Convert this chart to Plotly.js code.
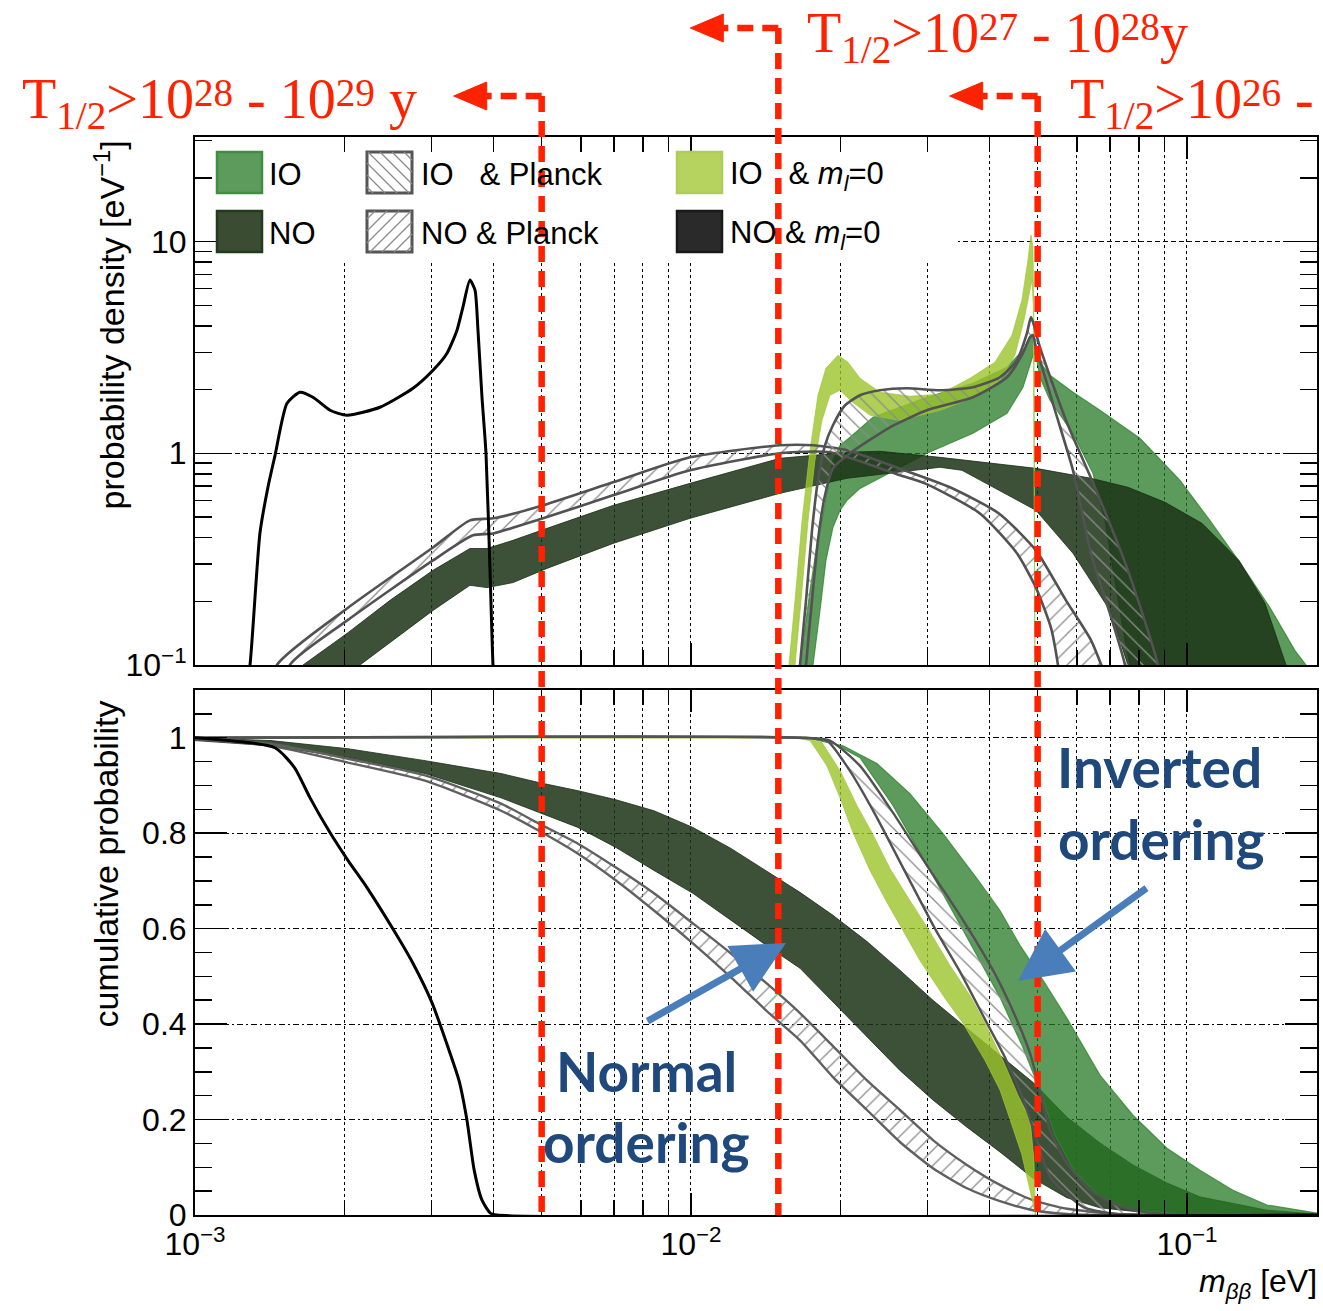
<!DOCTYPE html>
<html><head><meta charset="utf-8">
<script src="https://cdn.plot.ly/plotly-3.0.1.min.js"></script>
<style>html,body{margin:0;padding:0;background:#fff}</style>
</head><body><div id="chart" style="width:1323px;height:1311px"></div>
<script>
// ================= DATA =================
// x: m_bb [eV]; top panel: probability density [1/eV]; bottom: cumulative probability

// --- top panel: NO & m_l=0 (black curve)
const dNOm0_x = [1.27e-3,1.291e-3,1.352e-3,1.403e-3,1.450e-3,1.533e-3,1.628e-3,1.729e-3,1.872e-3,2.025e-3,2.36e-3,2.751e-3,3.019e-3,3.222e-3,3.375e-3,3.47e-3,3.584e-3,3.669e-3,3.72e-3,3.79e-3,3.861e-3,3.934e-3,3.989e-3,4.02e-3];
const dNOm0_y = [0.08,0.1,0.42,0.691,0.978,1.723,1.943,1.84,1.597,1.512,1.65,2.029,2.468,2.971,3.815,4.917,6.577,5.898,3.815,1.84,1.0,0.28,0.1,0.08];

// --- top panel: NO band
const dNO_up_x = [1.60e-3,1.651e-3,2.025e-3,2.473e-3,3.019e-3,3.584e-3,3.879e-3,4.376e-3,5.125e-3,6.961e-3,9.954e-3,1.511e-2,2.064e-2,2.404e-2,3.177e-2,4.96e-2,6.404e-2,7.603e-2,9.03e-2,1.072e-1,1.273e-1,1.437e-1,1.584e-1,1.63e-1];
const dNO_up_y = [0.08,0.1,0.141,0.202,0.280,0.355,0.355,0.388,0.442,0.567,0.721,0.947,1.011,1.022,0.957,0.849,0.762,0.691,0.587,0.467,0.312,0.195,0.1,0.08];
const dNO_lo_x = [2.08e-3,2.151e-3,3.019e-3,3.584e-3,3.879e-3,4.376e-3,5.125e-3,6.961e-3,9.954e-3,1.511e-2,2.064e-2,3.177e-2,3.519e-2,4.96e-2,5.891e-2,6.995e-2,7.603e-2,7.78e-2];
const dNO_lo_y = [0.08,0.1,0.181,0.238,0.232,0.245,0.286,0.375,0.493,0.647,0.762,0.859,0.831,0.538,0.337,0.181,0.1,0.08];

// --- top panel: IO band
const dIO_up_x = [1.64e-2,1.659e-2,1.738e-2,1.795e-2,1.845e-2,1.889e-2,1.933e-2,1.998e-2,2.093e-2,2.328e-2,2.991e-2,3.703e-2,4.337e-2,4.670e-2,4.825e-2,4.892e-2,4.96e-2,5.053e-2,5.294e-2,5.891e-2,6.677e-2,8.038e-2,9.681e-2,1.112e-1,1.279e-1,1.47e-1,1.651e-1,1.738e-1,1.770e-1];
const dIO_up_y = [0.068,0.1,0.225,0.367,0.509,0.706,0.927,1.091,1.190,1.480,1.840,2.143,2.551,3.069,3.421,3.613,3.240,2.693,2.338,1.943,1.597,1.177,0.745,0.482,0.305,0.187,0.117,0.1,0.076];
const dIO_lo_x = [1.70e-2,1.762e-2,1.82e-2,1.871e-2,1.933e-2,1.998e-2,2.064e-2,2.192e-2,2.404e-2,2.638e-2,2.991e-2,3.703e-2,4.337e-2,4.670e-2,4.825e-2,4.915e-2,4.984e-2,5.053e-2,5.294e-2,5.891e-2,6.463e-2,6.834e-2,7.158e-2,7.499e-2,7.675e-2,7.78e-2];
const dIO_lo_y = [0.068,0.1,0.181,0.312,0.447,0.538,0.600,0.683,0.762,0.859,1.0,1.243,1.546,2.051,2.607,3.003,2.753,2.287,1.781,1.243,0.804,0.482,0.251,0.131,0.1,0.068];

// --- top panel: IO & m_l=0 band
const dLG_up_x = [1.562e-2,1.576e-2,1.621e-2,1.675e-2,1.738e-2,1.803e-2,1.871e-2,1.979e-2,2.073e-2,2.192e-2,2.404e-2,2.763e-2,3.177e-2,3.652e-2,4.101e-2,4.438e-2,4.648e-2,4.78e-2,4.847e-2,4.892e-2,4.915e-2,4.94e-2];
const dLG_up_y = [0.068,0.1,0.202,0.482,1.033,1.880,2.523,2.907,2.693,2.262,1.943,1.860,1.901,2.262,2.693,3.613,5.289,8.177,10.73,9.5,4.0,0.068];
const dLG_lo_x = [1.606e-2,1.621e-2,1.667e-2,1.722e-2,1.778e-2,1.837e-2,1.906e-2,1.998e-2,2.093e-2,2.296e-2,2.638e-2,3.177e-2,3.738e-2,4.198e-2,4.5e-2,4.692e-2,4.825e-2,4.87e-2,4.90e-2,4.925e-2];
const dLG_lo_y = [0.068,0.1,0.202,0.482,0.927,1.432,1.880,1.986,1.781,1.512,1.432,1.597,1.840,2.214,2.907,4.255,5.898,6.6,5.0,0.068];

// --- top panel: IO & Planck band (two edges)
const dIOP_a_x = [1.64e-2,1.659e-2,1.706e-2,1.754e-2,1.803e-2,1.863e-2,1.933e-2,2.045e-2,2.192e-2,2.404e-2,2.725e-2,3.177e-2,3.703e-2,4.198e-2,4.542e-2,4.758e-2,4.847e-2,4.915e-2,5.053e-2,5.702e-2,6.523e-2,7.603e-2,8.74e-2,8.905e-2];
const dIOP_a_y = [0.068,0.1,0.202,0.433,0.745,1.091,1.356,1.686,1.880,1.986,2.029,1.986,2.051,2.287,2.753,3.693,4.395,4.029,3.171,1.432,0.691,0.280,0.1,0.068];
const dIOP_b_x = [1.690e-2,1.706e-2,1.754e-2,1.803e-2,1.863e-2,1.933e-2,2.093e-2,2.519e-2,2.991e-2,3.703e-2,4.337e-2,4.670e-2,4.825e-2,4.892e-2,4.96e-2,5.053e-2,5.418e-2,5.891e-2,6.404e-2,6.995e-2,7.499e-2,7.603e-2];
const dIOP_b_y = [0.068,0.1,0.202,0.388,0.633,0.849,1.0,1.327,1.597,1.840,2.287,2.971,3.535,3.613,3.137,2.753,1.597,0.831,0.337,0.175,0.1,0.068];

// --- top panel: NO & Planck band (two edges)
const dNOP_u_x = [1.430e-3,1.463e-3,2.025e-3,3.019e-3,3.584e-3,3.989e-3,4.96e-3,6.961e-3,9.954e-3,1.511e-2,1.762e-2,2.064e-2,2.626e-2,3.328e-2,4.178e-2,4.96e-2,5.702e-2,6.404e-2,6.995e-2];
const dNOP_u_y = [0.068,0.1,0.185,0.359,0.482,0.493,0.562,0.729,0.957,1.091,1.091,1.033,0.849,0.691,0.520,0.348,0.202,0.131,0.078];
const dNOP_l_x = [1.533e-3,1.554e-3,2.025e-3,3.019e-3,3.635e-3,3.989e-3,4.96e-3,6.961e-3,9.954e-3,1.511e-2,1.906e-2,2.602e-2,2.963e-2,3.825e-2,4.542e-2,4.96e-2,5.318e-2,5.494e-2,5.57e-2];
const dNOP_l_y = [0.068,0.1,0.162,0.312,0.410,0.418,0.488,0.633,0.831,1.0,1.011,0.796,0.721,0.520,0.337,0.232,0.150,0.1,0.076];

// --- bottom panel: NO & m_l=0 (black)
const cNOm0_x = [1e-3,1.449e-3,1.588e-3,1.706e-3,1.862e-3,2.034e-3,2.222e-3,2.518e-3,2.752e-3,3.007e-3,3.238e-3,3.406e-3,3.534e-3,3.655e-3,3.79e-3,3.94e-3,4.06e-3,1.829e-1];
const cNOm0_y = [1.0,0.979,0.937,0.874,0.805,0.743,0.686,0.596,0.527,0.444,0.351,0.282,0.199,0.094,0.031,0.004,0,0];

// --- bottom panel: NO band
const cNO_up_x = [1e-3,1.423e-3,2.034e-3,2.909e-3,4.14e-3,4.937e-3,5.918e-3,7.06e-3,8.422e-3,1.009e-2,1.204e-2,1.437e-2,1.659e-2,1.933e-2,2.264e-2,2.638e-2,3.075e-2,3.601e-2,4.198e-2,4.892e-2,5.729e-2,6.677e-2,7.782e-2,9.114e-2,1.062e-1,1.45e-1,1.829e-1];
const cNO_up_y = [1.0,0.994,0.977,0.952,0.925,0.906,0.889,0.870,0.847,0.812,0.768,0.718,0.676,0.628,0.573,0.513,0.450,0.391,0.335,0.278,0.205,0.151,0.105,0.067,0.038,0.010,0.002];
const cNO_lo_x = [1e-3,1.423e-3,2.034e-3,2.909e-3,4.14e-3,4.937e-3,5.918e-3,7.06e-3,8.422e-3,1.009e-2,1.204e-2,1.437e-2,1.659e-2,1.933e-2,2.264e-2,2.638e-2,3.075e-2,3.601e-2,4.198e-2,4.892e-2,5.729e-2,6.677e-2,8.42e-2,1.062e-1,1.829e-1];
const cNO_lo_y = [0.994,0.983,0.958,0.925,0.874,0.843,0.812,0.770,0.722,0.674,0.617,0.561,0.517,0.446,0.374,0.303,0.241,0.184,0.132,0.077,0.036,0.015,0.004,0,0];

// --- bottom panel: NO & Planck band
const cNOP_u_x = [1e-3,1.423e-3,2.034e-3,2.909e-3,4.14e-3,4.937e-3,5.918e-3,7.06e-3,8.422e-3,1.009e-2,1.204e-2,1.437e-2,1.659e-2,1.933e-2,2.264e-2,2.638e-2,3.075e-2,3.601e-2,4.198e-2,4.892e-2,5.729e-2,7.225e-2,1.062e-1,1.829e-1];
const cNOP_u_y = [1.0,0.987,0.956,0.921,0.862,0.820,0.778,0.728,0.674,0.611,0.548,0.481,0.423,0.354,0.282,0.220,0.157,0.105,0.063,0.031,0.013,0.002,0,0];
const cNOP_l_x = [1e-3,1.423e-3,2.034e-3,2.909e-3,4.14e-3,4.937e-3,5.918e-3,7.06e-3,8.422e-3,1.009e-2,1.204e-2,1.437e-2,1.659e-2,1.933e-2,2.264e-2,2.638e-2,3.075e-2,3.601e-2,4.198e-2,4.892e-2,5.729e-2,6.677e-2,1.829e-1];
const cNOP_l_y = [0.998,0.983,0.948,0.910,0.847,0.805,0.757,0.701,0.638,0.569,0.498,0.423,0.366,0.289,0.220,0.153,0.098,0.056,0.029,0.010,0.002,0,0];

// --- bottom panel: IO band
const cIO_up_x = [1e-3,1.584e-2,1.738e-2,2.026e-2,2.371e-2,2.763e-2,3.222e-2,3.772e-2,4.198e-2,4.606e-2,5.125e-2,5.729e-2,6.677e-2,7.782e-2,9.114e-2,1.062e-1,1.238e-1,1.45e-1,1.829e-1];
const cIO_up_y = [1.0,1.0,0.998,0.983,0.946,0.883,0.799,0.705,0.638,0.565,0.492,0.412,0.293,0.209,0.140,0.094,0.052,0.021,0.004];
const cIO_lo_x = [1e-3,1.659e-2,1.88e-2,2.192e-2,2.554e-2,3.033e-2,3.601e-2,4.198e-2,4.67e-2,5.053e-2,5.418e-2,5.945e-2,6.677e-2,7.782e-2,1.062e-1,1.829e-1];
const cIO_lo_y = [1.0,1.0,0.996,0.958,0.858,0.722,0.582,0.456,0.351,0.262,0.167,0.090,0.038,0.010,0,0];

// --- bottom panel: IO & m_l=0 band
const cLG_l_x = [1e-3,1.606e-2,1.738e-2,1.88e-2,1.998e-2,2.122e-2,2.296e-2,2.484e-2,2.663e-2,2.895e-2,3.252e-2,3.535e-2,3.915e-2,4.198e-2,4.397e-2,4.648e-2,4.825e-2,4.937e-2];
const cLG_l_y = [1.0,1.0,0.994,0.941,0.874,0.801,0.722,0.655,0.600,0.533,0.454,0.402,0.324,0.262,0.201,0.126,0.052,0];
const cLG_r_x = [1e-3,1.659e-2,1.837e-2,1.998e-2,2.161e-2,2.317e-2,2.519e-2,2.763e-2,3.005e-2,3.328e-2,3.652e-2,3.915e-2,4.256e-2,4.563e-2,4.825e-2,4.915e-2,4.95e-2];
const cLG_r_y = [1.0,1.0,0.990,0.931,0.858,0.801,0.726,0.659,0.600,0.523,0.460,0.402,0.324,0.251,0.201,0.115,0];

// --- bottom panel: IO & Planck band
const cIOP_a_x = [1e-3,1.659e-2,1.88e-2,2.093e-2,2.35e-2,2.70e-2,3.104e-2,3.486e-2,3.915e-2,4.297e-2,4.648e-2,4.937e-2,5.294e-2,6.17e-2,7.225e-2,8.42e-2,1.829e-1];
const cIOP_a_y = [1.0,1.0,0.994,0.93,0.84,0.72,0.60,0.51,0.41,0.33,0.25,0.17,0.08,0.017,0.002,0,0];
const cIOP_b_x = [1e-3,1.698e-2,1.906e-2,2.192e-2,2.554e-2,2.991e-2,3.486e-2,4.063e-2,4.5e-2,4.825e-2,5.053e-2,5.294e-2,5.675e-2,6.373e-2,7.225e-2,8.42e-2,1.062e-1,1.829e-1];
const cIOP_b_y = [1.0,1.0,0.994,0.941,0.843,0.732,0.628,0.513,0.418,0.339,0.262,0.178,0.115,0.052,0.021,0.004,0,0];

// --- sensitivity lines (m_bb values) and their labels
const limitMass = [0.005, 0.015, 0.05];
const limitLabels = ['T<sub>1/2</sub>&gt;10<sup>28</sup> - 10<sup>29</sup> y',
                     'T<sub>1/2</sub>&gt;10<sup>27</sup> - 10<sup>28</sup>y',
                     'T<sub>1/2</sub>&gt;10<sup>26</sup> -'];

// --- axis ticks
const xMajor = [0.001, 0.01, 0.1];
const xMajorText = ['10<sup>\u22123</sup>', '10<sup>\u22122</sup>', '10<sup>\u22121</sup>'];
const xMinor = [0.002,0.003,0.004,0.005,0.006,0.007,0.008,0.009,0.02,0.03,0.04,0.05,0.06,0.07,0.08,0.09];
const yTopMajor = [0.1, 1, 10];
const yTopText = ['10<sup>\u22121</sup>', '1', '10'];
const yTopMinor = [0.2,0.3,0.4,0.5,0.6,0.7,0.8,0.9,2,3,4,5,6,7,8,9,20,30];
const yBotMajor = [0, 0.2, 0.4, 0.6, 0.8, 1];
const yBotText = ['0', '0.2', '0.4', '0.6', '0.8', '1'];

// ================= STYLE / GEOMETRY =================
const X_MIN = 0.001, X_MAX = 0.1829;
const XR = [Math.log10(X_MIN), Math.log10(X_MAX)];
const YR_TOP = [-1, 1.494];
const PL = 195, PR = 1317, PT = 137, PB = 1215;
const TOP_BOTTOM_PX = 665, BOT_TOP_PX = 690;
const pxX = px => (px - PL) / (PR - PL);
const pxY = py => (PB - py) / (PB - PT);
const dataX = v => (Math.log10(v) - XR[0]) / (XR[1] - XR[0]);
const pxToX = px => Math.pow(10, XR[0] + pxX(px) * (XR[1] - XR[0]));
const pyToTopY = py => Math.pow(10, YR_TOP[0] + (TOP_BOTTOM_PX - py) / (TOP_BOTTOM_PX - PT) * (YR_TOP[1] - YR_TOP[0]));

const C_IO = 'rgba(38,122,38,0.75)';
const C_NO = 'rgba(28,52,22,0.86)';
const C_LG = 'rgba(155,195,42,0.80)';
const C_PL = '#525252';
const C_HATCH = '#8c8c8c';
const RED = '#ff2200';
const FONT = 'Liberation Sans, Arial, sans-serif';

const TOP = {x: 'x', y: 'y'}, BOT = {x: 'x2', y: 'y2'};

function band(xu, yu, xl, yl, ax, opt) {
  return Object.assign({
    type: 'scatter', mode: 'lines', xaxis: ax.x, yaxis: ax.y,
    x: xu.concat(xl.slice().reverse()), y: yu.concat(yl.slice().reverse()),
    fill: 'toself', hoverinfo: 'skip'
  }, opt);
}
function hatchBand(xu, yu, xl, yl, ax, shape) {
  return band(xu, yu, xl, yl, ax, {
    line: {width: 0}, fillcolor: 'rgba(255,255,255,0)',
    fillpattern: {shape: shape, fgcolor: C_HATCH, bgcolor: 'rgba(255,255,255,0)', size: 11, solidity: 0.12}
  });
}
function line(x, y, ax, color, width) {
  return {type: 'scatter', mode: 'lines', xaxis: ax.x, yaxis: ax.y, x: x, y: y,
          line: {color: color, width: width, shape: 'spline', smoothing: 0.6}, hoverinfo: 'skip'};
}

const traces = [
  // ---- top panel
  band(dIO_up_x, dIO_up_y, dIO_lo_x, dIO_lo_y, TOP, {fillcolor: C_IO, line: {color: 'rgba(50,135,50,0.8)', width: 1.2}}),
  band(dNO_up_x, dNO_up_y, dNO_lo_x, dNO_lo_y, TOP, {fillcolor: C_NO, line: {color: 'rgba(25,45,20,0.8)', width: 1}}),
  band(dLG_up_x, dLG_up_y, dLG_lo_x, dLG_lo_y, TOP, {fillcolor: C_LG, line: {color: 'rgba(160,200,60,0.9)', width: 0.8}}),
  hatchBand(dNOP_u_x, dNOP_u_y, dNOP_l_x, dNOP_l_y, TOP, '/'),
  line(dNOP_u_x, dNOP_u_y, TOP, C_PL, 2.6),
  line(dNOP_l_x, dNOP_l_y, TOP, C_PL, 2.6),
  hatchBand(dIOP_a_x, dIOP_a_y, dIOP_b_x, dIOP_b_y, TOP, '\\'),
  line(dIOP_a_x, dIOP_a_y, TOP, C_PL, 2.6),
  line(dIOP_b_x, dIOP_b_y, TOP, C_PL, 2.6),
  line(dNOm0_x, dNOm0_y, TOP, '#000', 3),
  // ---- bottom panel
  band(cNO_up_x, cNO_up_y, cNO_lo_x, cNO_lo_y, BOT, {fillcolor: C_NO, line: {color: 'rgba(25,45,20,0.8)', width: 1}}),
  hatchBand(cNOP_u_x, cNOP_u_y, cNOP_l_x, cNOP_l_y, BOT, '/'),
  line(cNOP_u_x, cNOP_u_y, BOT, '#606060', 2.4),
  line(cNOP_l_x, cNOP_l_y, BOT, '#606060', 2.4),
  band(cIO_up_x, cIO_up_y, cIO_lo_x, cIO_lo_y, BOT, {fillcolor: C_IO, line: {color: 'rgba(50,135,50,0.8)', width: 1.2}}),
  band(cLG_l_x, cLG_l_y, cLG_r_x, cLG_r_y, BOT, {fillcolor: C_LG, line: {color: 'rgba(160,200,60,0.9)', width: 0.8}}),
  hatchBand(cIOP_a_x, cIOP_a_y, cIOP_b_x, cIOP_b_y, BOT, '\\'),
  line(cIOP_a_x, cIOP_a_y, BOT, C_PL, 2.4),
  line(cIOP_b_x, cIOP_b_y, BOT, C_PL, 2.4),
  line(cNOm0_x, cNOm0_y, BOT, '#000', 3)
];

// ---- axes
const tickFont = {family: FONT, size: 32, color: '#000'};
function xAxis(anchor, labels) {
  return {
    type: 'log', range: XR, domain: [0, 1], anchor: anchor,
    tickmode: 'array', tickvals: xMajor, ticktext: xMajorText, showticklabels: labels,
    ticks: 'inside', ticklen: 22, tickwidth: 1.5, tickcolor: '#000',
    showline: true, linewidth: 2, linecolor: '#000', mirror: 'allticks',
    showgrid: true, gridcolor: '#000', gridwidth: 1, griddash: '3px,3px',
    minor: {tickmode: 'array', tickvals: xMinor, ticks: 'inside', ticklen: 15, tickwidth: 1.5, tickcolor: '#000',
            showgrid: true, gridcolor: '#000', gridwidth: 1, griddash: '3px,3px'},
    zeroline: false, tickfont: tickFont
  };
}
const layout = {
  width: 1323, height: 1311,
  margin: {l: PL, r: 1323 - PR, t: PT, b: 1311 - PB, pad: 0},
  paper_bgcolor: '#fff', plot_bgcolor: '#fff', showlegend: false,
  font: {family: FONT, color: '#000'},
  xaxis: xAxis('y', false),
  xaxis2: xAxis('y2', true),
  yaxis: {
    type: 'log', range: YR_TOP, domain: [pxY(TOP_BOTTOM_PX), 1], anchor: 'x',
    tickmode: 'array', tickvals: yTopMajor, ticktext: yTopText,
    ticks: 'inside', ticklen: 32, tickwidth: 1.5, tickcolor: '#000',
    showline: true, linewidth: 2, linecolor: '#000', mirror: 'allticks',
    showgrid: true, gridcolor: '#000', gridwidth: 1, griddash: '5px,3px',
    minor: {tickmode: 'array', tickvals: yTopMinor, ticks: 'inside', ticklen: 17, tickwidth: 1.5, tickcolor: '#000', showgrid: false},
    zeroline: false, tickfont: tickFont
  },
  yaxis2: {
    type: 'linear', range: [0, 1.1], domain: [0, pxY(BOT_TOP_PX)], anchor: 'x2',
    tickmode: 'array', tickvals: yBotMajor, ticktext: yBotText,
    ticks: 'inside', ticklen: 32, tickwidth: 1.5, tickcolor: '#000',
    showline: true, linewidth: 2, linecolor: '#000', mirror: 'allticks',
    showgrid: true, gridcolor: '#000', gridwidth: 1, griddash: '6px,3px,2px,3px',
    minor: {dtick: 0.05, tick0: 0, ticks: 'inside', ticklen: 17, tickwidth: 1.5, tickcolor: '#000', showgrid: false},
    zeroline: false, tickfont: tickFont
  },
  shapes: [],
  annotations: []
};

// ---- legend (drawn by hand, ROOT style)
function box(x0, y0, x1, y1, fill, border, w) {
  layout.shapes.push({type: 'rect', xref: 'paper', yref: 'paper', x0: pxX(x0), x1: pxX(x1), y0: pxY(y1), y1: pxY(y0),
    fillcolor: fill, line: {color: border, width: w}, layer: 'above'});
}
function hatch(x0, y0, x1, y1, step, dir) {
  const w = x1 - x0, h = y1 - y0; let p = '';
  for (let c = -h + step / 2; c < w; c += step) {
    let xs = Math.max(x0, x0 + c), ys = y0 + (xs - x0) - c;
    let xe = Math.min(x1, x0 + c + h), ye = y0 + (xe - x0) - c;
    if (xe <= xs) continue;
    if (dir === '/') { xs = x0 + x1 - xs; xe = x0 + x1 - xe; }
    p += 'M' + pxX(xs).toFixed(5) + ',' + pxY(ys).toFixed(5) + 'L' + pxX(xe).toFixed(5) + ',' + pxY(ye).toFixed(5);
  }
  layout.shapes.push({type: 'path', xref: 'paper', yref: 'paper', path: p, line: {color: C_HATCH, width: 1.3}, layer: 'above'});
}
box(217, 152, 262, 193, 'rgb(92,155,92)', 'rgb(65,142,65)', 2.5);
box(217, 211, 262, 252, 'rgb(58,77,50)', 'rgb(35,58,30)', 2.5);
box(367, 152, 412, 193, '#fff', '#555', 3); hatch(367, 152, 412, 193, 12, '\\');
box(367, 211, 412, 252, '#fff', '#555', 3); hatch(367, 211, 412, 252, 12, '/');
box(677, 152, 722, 193, 'rgb(182,210,95)', 'rgb(172,206,88)', 2.5);
box(677, 211, 722, 252, 'rgb(42,42,42)', 'rgb(25,25,25)', 2.5);
function txt(text, px, py, size, opt) {
  layout.annotations.push(Object.assign({text: text, xref: 'paper', yref: 'paper', x: pxX(px), y: pxY(py),
    xanchor: 'left', yanchor: 'middle', showarrow: false, font: {family: FONT, size: size, color: '#000'}}, opt || {}));
}
const LEG = 31;
txt('IO', 267, 174, LEG); txt('NO', 267, 233, LEG);
txt('IO&nbsp;&nbsp;&nbsp;&amp; Planck', 419, 174, LEG); txt('NO &amp; Planck', 419, 233, LEG);
txt('IO&nbsp;&nbsp;&nbsp;&amp; <i>m</i><sub><i>l</i></sub>=0', 728, 176, LEG);
txt('NO &amp; <i>m</i><sub><i>l</i></sub>=0', 728, 235, LEG);

// ---- axis titles
txt('probability density [eV<sup>\u22121</sup>]', 109, 139, 34, {xanchor: 'center', yanchor: 'top', textangle: -90});
txt('cumulative probability', 105, 699, 34, {xanchor: 'center', yanchor: 'top', textangle: -90});
txt('<i>m</i><sub><i>\u03b2\u03b2</i></sub> [eV]', 1319, 1283, 32, {xanchor: 'right'});

// ---- red sensitivity lines with arrows
const cornerPy = [96, 28, 96];
const labelPx = [20, 805, 1068];
const labelPy = [98, 32, 98];
limitMass.forEach((m, i) => {
  const xp = dataX(m), cx = PL + xp * (PR - PL), cy = cornerPy[i];
  const dash = {color: RED, width: 6.5, dash: '16px,9px'};
  layout.shapes.push({type: 'line', xref: 'paper', yref: 'paper', x0: xp, x1: xp, y0: pxY(cy), y1: pxY(PB), line: dash, layer: 'above'});
  layout.shapes.push({type: 'line', xref: 'paper', yref: 'paper', x0: xp, x1: pxX(cx - 55), y0: pxY(cy), y1: pxY(cy), line: dash, layer: 'above'});
  const tip = cx - 88, base = cx - 55;
  layout.shapes.push({type: 'path', xref: 'paper', yref: 'paper', layer: 'above',
    path: 'M' + pxX(tip).toFixed(5) + ',' + pxY(cy).toFixed(5) + 'L' + pxX(base).toFixed(5) + ',' + pxY(cy - 14).toFixed(5) +
          'L' + pxX(base).toFixed(5) + ',' + pxY(cy + 14).toFixed(5) + 'Z',
    fillcolor: RED, line: {color: RED, width: 1}});
  txt(limitLabels[i], labelPx[i], labelPy[i], 56, {font: {family: 'Liberation Serif, Times New Roman, serif', size: 56, color: RED}});
});

// ---- blue ordering labels and arrows
const BLUE_T = '#1f497d', BLUE_A = '#4a7ebb';
const bfont = {family: 'Lato, Open Sans, sans-serif', size: 55, color: BLUE_T};
txt('<b>Inverted</b>', 1159, 767, 55, {xanchor: 'center', font: bfont});
txt('<b>ordering</b>', 1161, 839, 55, {xanchor: 'center', font: bfont});
txt('<b>Normal</b>', 646, 1071, 55, {xanchor: 'center', font: bfont});
txt('<b>ordering</b>', 646, 1142, 55, {xanchor: 'center', font: bfont});
layout.annotations.push({xref: 'paper', yref: 'paper', x: pxX(786), y: pxY(943), ax: -140, ay: 79, text: '',
  showarrow: true, arrowhead: 2, arrowsize: 1.5, arrowwidth: 7, arrowcolor: BLUE_A});
layout.annotations.push({xref: 'paper', yref: 'paper', x: pxX(1018), y: pxY(981), ax: 130, ay: -94, text: '',
  showarrow: true, arrowhead: 2, arrowsize: 1.5, arrowwidth: 7, arrowcolor: BLUE_A});

// ---- white legend area hiding the grid (between gridlines and traces); kept last
layout.shapes.push({type: 'rect', xref: 'x', yref: 'y', x0: pxToX(PL + 2), x1: pxToX(958), y0: pyToTopY(263), y1: pyToTopY(PT + 2),
  fillcolor: '#fff', line: {width: 0}, layer: 'between'});

// superscripts of the red half-life labels sit lower in the reference than Plotly's default
function lowerRedSups() {
  document.querySelectorAll('#chart .annotation-text').forEach(t => {
    const fill = (t.style.fill || t.getAttribute('fill') || '').replace(/\s/g, '');
    if (fill !== 'rgb(255,34,0)' && fill !== '#ff2200') return;
    t.querySelectorAll('tspan').forEach(s => {
      const dy = s.getAttribute('dy');
      if (dy === '-0.6em') s.setAttribute('dy', '-0.3em');
      else if (dy === '0.42em') s.setAttribute('dy', '0.21em');
    });
  });
}
Plotly.newPlot('chart', traces, layout, {displayModeBar: false, staticPlot: true})
  .then(lowerRedSups).catch(lowerRedSups);
</script>
</body></html>
